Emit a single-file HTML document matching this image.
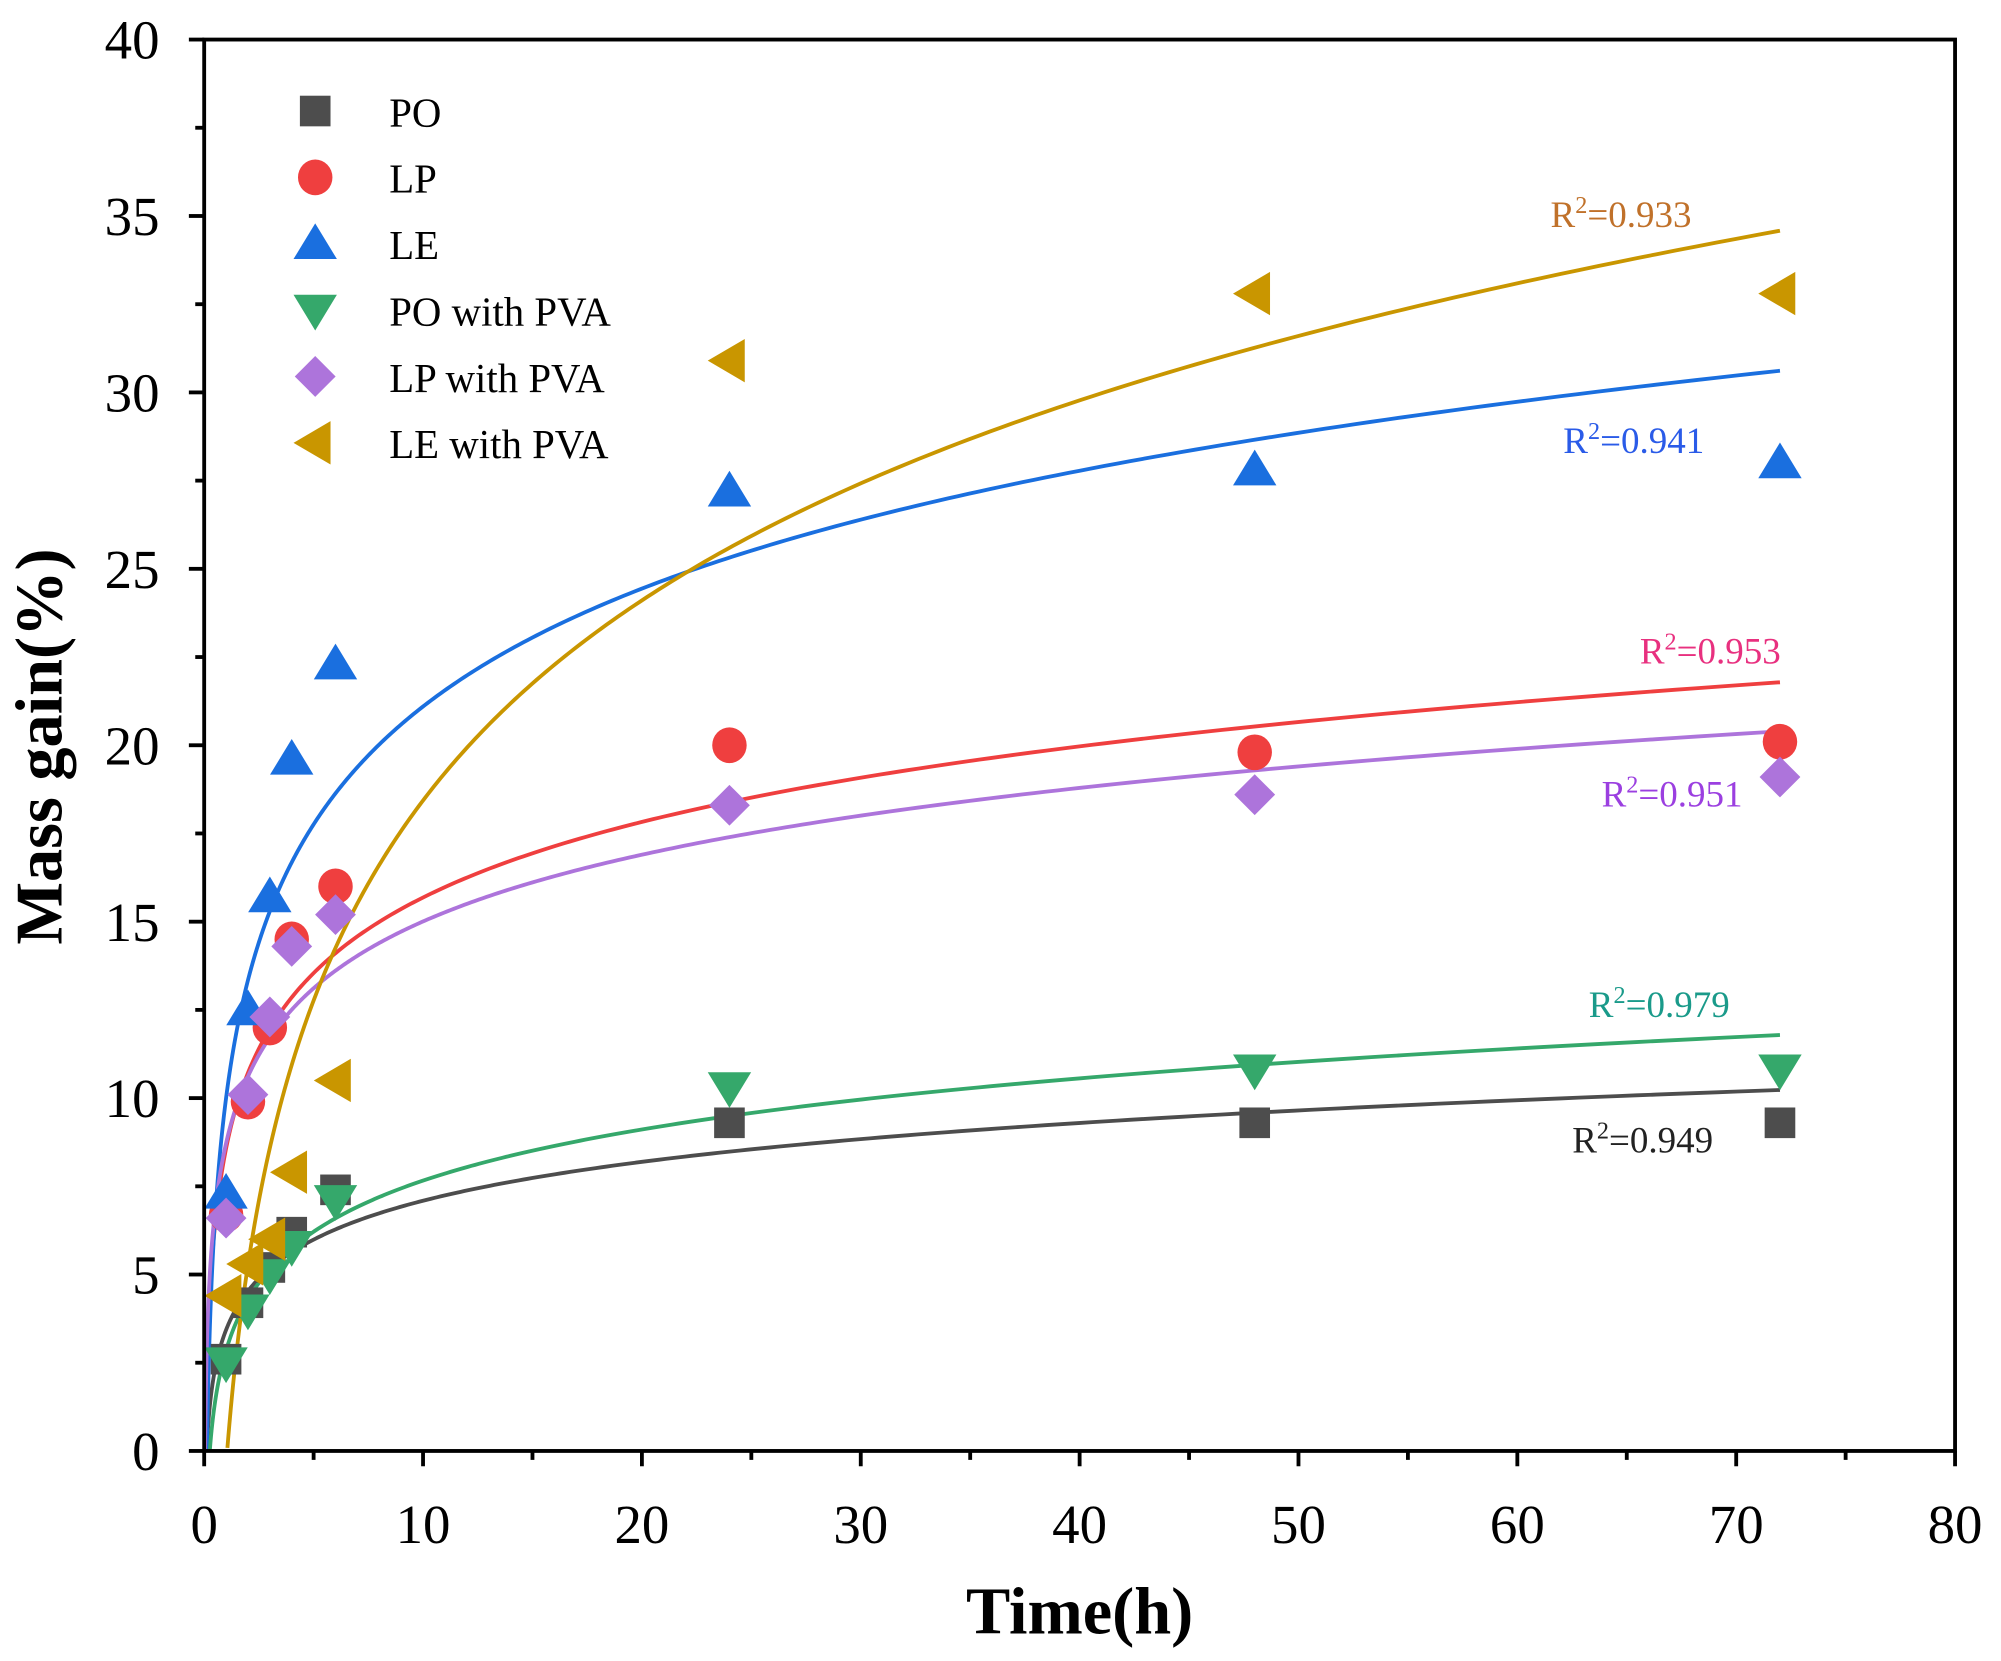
<!DOCTYPE html>
<html><head><meta charset="utf-8"><style>
html,body{margin:0;padding:0;background:#fff;}
svg{display:block;font-family:"Liberation Serif",serif;}
</style></head><body>
<svg id="chart" width="2001" height="1661" viewBox="0 0 1568 1301.6" preserveAspectRatio="none" xmlns="http://www.w3.org/2000/svg">
<rect width="1568" height="1301.6" fill="#fff"/>
<g id="curves"></g>
<g id="marks"></g>
<g id="axes"></g>
<g id="legend"></g>
<g id="r2"></g>
<text x="846" y="1280" font-size="52" font-weight="bold" text-anchor="middle">Time(h)</text>
<text transform="translate(48,585) rotate(-90)" font-size="52" font-weight="bold" text-anchor="middle">Mass gain(%)</text>
</svg>
<script>
const times = [1,2,3,4,6,24,48,72];
const seriesNames = ["PO","LP","LE","PO with PVA","LP with PVA","LE with PVA"];
const poVals = [2.6,4.2,5.2,6.2,7.4,9.3,9.3,9.3];
const lpVals = [6.7,9.9,12.0,14.5,16.0,20.0,19.8,20.1];
const leVals = [7.3,12.5,15.7,19.6,22.3,27.2,27.8,28.0];
const poPvaVals = [2.5,4.0,5.0,5.8,7.1,10.3,10.8,10.8];
const lpPvaVals = [6.6,10.1,12.3,14.3,15.2,18.3,18.6,19.1];
const lePvaVals = [4.4,5.3,6.0,7.9,10.5,30.9,32.8,32.8];
// logarithmic fits y = a + b ln(x)
const fitA = [3.43,8.57,10.0,2.85,8.72,-0.4];
const fitB = [1.59,3.09,4.82,2.09,2.73,8.18];
const r2Labels = ["0.949","0.953","0.941","0.979","0.951","0.933"];
const xTicks = [0,10,20,30,40,50,60,70,80];
const yTicks = [0,5,10,15,20,25,30,35,40];

const allVals=[poVals,lpVals,leVals,poPvaVals,lpPvaVals,lePvaVals];
const colors=["#4d4d4d","#ef3f3f","#1a6fdf","#35a86b","#ad74db","#c99600"];
const lineColors=["#4d4d4d","#ef3f3f","#1a6fdf","#35a86b","#ad74db","#c99600"];
const r2Colors=["#222","#e8307f","#2a5be8","#1a9a8a","#9b3fe0","#c0712a"];
const r2Pos=[[1232,893],[1285,510],[1225,345],[1245,787],[1255,622],[1215,168]];
const shapes=["square","circle","up","down","diamond","left"];
const NS="http://www.w3.org/2000/svg";
const X0=160,X1=1532,Y0=1137,Y1=31;
const xs=v=>X0+(v/80)*(X1-X0);
const ys=v=>Y0-(v/40)*(Y0-Y1);
function mk(tag,attrs,parent){const e=document.createElementNS(NS,tag);for(const k in attrs)e.setAttribute(k,attrs[k]);parent.appendChild(e);return e;}
function marker(shape,cx,cy,col,parent){
  let e;
  if(shape==="square")e=mk("rect",{x:cx-12,y:cy-12,width:24,height:24,fill:col},parent);
  else if(shape==="circle")e=mk("ellipse",{cx:cx,cy:cy,rx:13.5,ry:14,fill:col},parent);
  else if(shape==="up")e=mk("polygon",{points:`${cx},${cy-16} ${cx+17},${cy+12} ${cx-17},${cy+12}`,fill:col},parent);
  else if(shape==="down")e=mk("polygon",{points:`${cx},${cy+16} ${cx+17},${cy-12} ${cx-17},${cy-12}`,fill:col},parent);
  else if(shape==="diamond")e=mk("polygon",{points:`${cx},${cy-16} ${cx+16},${cy} ${cx},${cy+16} ${cx-16},${cy}`,fill:col},parent);
  else e=mk("polygon",{points:`${cx-17},${cy} ${cx+12},${cy-17} ${cx+12},${cy+17}`,fill:col},parent);
  return e;
}
const curves=document.getElementById("curves"),marks=document.getElementById("marks"),axes=document.getElementById("axes"),legend=document.getElementById("legend"),r2=document.getElementById("r2");
for(let i=0;i<6;i++){
  let pts=[];
  for(let k=0;k<=600;k++){
    const x=0.02*Math.pow(72/0.02,k/600);
    const y=fitA[i]+fitB[i]*Math.log(x);
    if(y<0)continue;
    pts.push(xs(x).toFixed(2)+","+ys(y).toFixed(2));
  }
  const p=mk("polyline",{points:pts.join(" "),fill:"none",stroke:lineColors[i],"stroke-width":3},curves);
  
  
}
for(let i=0;i<6;i++){
  allVals[i].forEach((v,j)=>{
    const m=marker(shapes[i],xs(times[j]),ys(v),colors[i],marks);
    
    
  });
}
mk("rect",{x:X0,y:Y1,width:X1-X0,height:Y0-Y1,fill:"none",stroke:"#000","stroke-width":3},axes);
xTicks.forEach(t=>{
  mk("line",{x1:xs(t),y1:Y0,x2:xs(t),y2:Y0+12,stroke:"#000","stroke-width":3},axes);
  if(t<80)mk("line",{x1:xs(t+5),y1:Y0,x2:xs(t+5),y2:Y0+7,stroke:"#000","stroke-width":3},axes);
  const tx=mk("text",{x:xs(t),y:Y0+72,"font-size":43,"text-anchor":"middle"},axes);tx.textContent=t;
  
  
});
yTicks.forEach(t=>{
  mk("line",{x1:X0-12,y1:ys(t),x2:X0,y2:ys(t),stroke:"#000","stroke-width":3},axes);
  if(t<40)mk("line",{x1:X0-7,y1:ys(t+2.5),x2:X0,y2:ys(t+2.5),stroke:"#000","stroke-width":3},axes);
  const tx=mk("text",{x:X0-35,y:ys(t)+15,"font-size":43,"text-anchor":"end"},axes);tx.textContent=t;
  
  
});
seriesNames.forEach((n,i)=>{
  const y=87+i*52;
  const g=mk("g",{},legend);
  
  
  marker(shapes[i],247,y,colors[i],g);
  const t=mk("text",{x:305,y:y+12,"font-size":32},g);t.textContent=n;
});
for(let i=0;i<6;i++){
  const t=mk("text",{x:r2Pos[i][0],y:r2Pos[i][1]+10,"font-size":29,fill:r2Colors[i]},r2);
  
  
  t.innerHTML='R<tspan dy="-11" font-size="19">2</tspan><tspan dy="11">='+r2Labels[i]+'</tspan>';
}
</script>
</body></html>
